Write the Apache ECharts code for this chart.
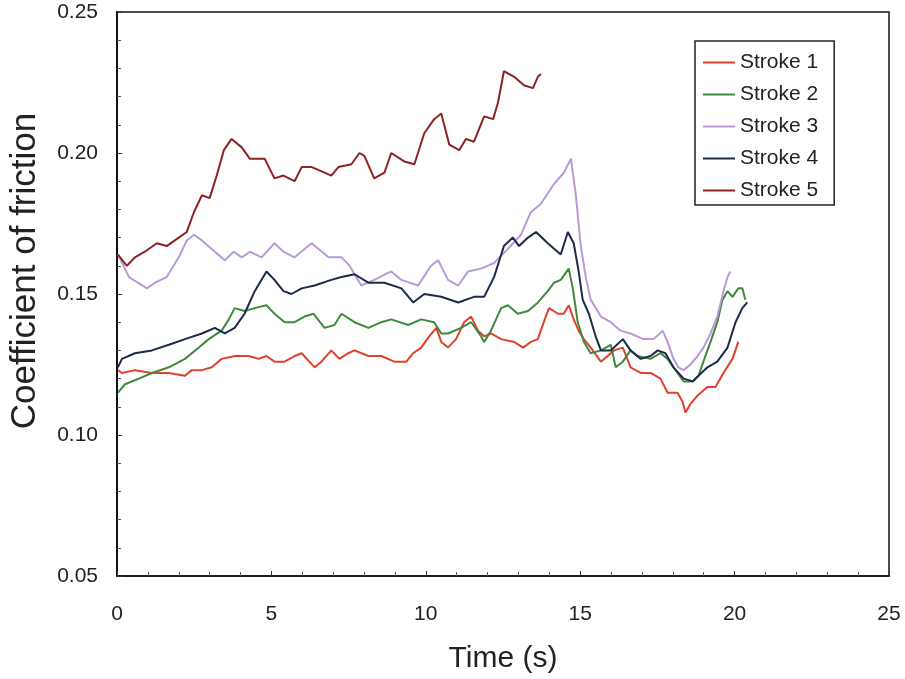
<!DOCTYPE html>
<html><head><meta charset="utf-8">
<script src="https://cdn.jsdelivr.net/npm/echarts@6/dist/echarts.min.js"></script>
<style>html,body{margin:0;padding:0;background:#fff}#c{width:905px;height:679px}</style>
</head><body><div id="c"></div>
<script>
const seriesNames = ['Stroke 1','Stroke 2','Stroke 3','Stroke 4','Stroke 5'];
const xTicks = [0,5,10,15,20,25];
const yTicks = [0.05,0.10,0.15,0.20,0.25];

const stroke1 = [[0.03,0.123],[0.16,0.122],[0.58,0.123],[1.13,0.122],[1.68,0.122],[2.20,0.121],[2.42,0.123],[2.75,0.123],[3.07,0.124],[3.39,0.127],[3.81,0.128],[4.26,0.128],[4.59,0.127],[4.84,0.128],[5.10,0.126],[5.43,0.126],[5.75,0.128],[5.98,0.129],[6.40,0.124],[6.62,0.126],[6.94,0.130],[7.20,0.127],[7.49,0.129],[7.69,0.130],[8.14,0.128],[8.56,0.128],[8.98,0.126],[9.37,0.126],[9.59,0.129],[9.85,0.131],[10.11,0.135],[10.34,0.138],[10.50,0.133],[10.72,0.131],[10.98,0.134],[11.24,0.140],[11.47,0.142],[11.69,0.137],[11.89,0.135],[12.11,0.136],[12.44,0.134],[12.86,0.133],[13.15,0.131],[13.40,0.133],[13.63,0.134],[13.82,0.140],[13.99,0.145],[14.28,0.143],[14.47,0.143],[14.63,0.146],[14.79,0.141],[14.95,0.137],[15.12,0.134],[15.34,0.131],[15.67,0.126],[15.89,0.128],[16.09,0.130],[16.38,0.131],[16.63,0.124],[16.96,0.122],[17.28,0.122],[17.60,0.120],[17.83,0.115],[18.15,0.115],[18.31,0.112],[18.41,0.108],[18.57,0.111],[18.80,0.114],[19.12,0.117],[19.38,0.117],[19.64,0.122],[19.93,0.127],[20.12,0.133]];

const stroke2 = [[0.03,0.115],[0.26,0.118],[0.71,0.120],[1.13,0.122],[1.68,0.124],[2.20,0.127],[2.65,0.131],[2.97,0.134],[3.39,0.137],[3.62,0.141],[3.81,0.145],[4.13,0.144],[4.46,0.145],[4.84,0.146],[5.10,0.143],[5.43,0.140],[5.75,0.140],[6.07,0.142],[6.36,0.143],[6.72,0.138],[7.04,0.139],[7.27,0.143],[7.69,0.140],[8.14,0.138],[8.56,0.140],[8.88,0.141],[9.43,0.139],[9.85,0.141],[10.27,0.140],[10.50,0.136],[10.72,0.136],[11.14,0.138],[11.47,0.140],[11.79,0.135],[11.89,0.133],[12.11,0.137],[12.44,0.145],[12.66,0.146],[12.98,0.143],[13.31,0.144],[13.63,0.147],[13.95,0.151],[14.15,0.154],[14.37,0.155],[14.63,0.159],[14.76,0.152],[14.92,0.140],[15.12,0.133],[15.34,0.129],[15.67,0.130],[15.99,0.132],[16.15,0.124],[16.38,0.126],[16.63,0.130],[16.86,0.128],[17.28,0.127],[17.60,0.129],[17.83,0.127],[18.15,0.122],[18.35,0.119],[18.64,0.119],[18.83,0.121],[18.99,0.126],[19.22,0.133],[19.44,0.140],[19.61,0.148],[19.77,0.151],[19.93,0.149],[20.12,0.152],[20.25,0.152],[20.35,0.148]];

const stroke3 = [[0.03,0.164],[0.39,0.156],[0.97,0.152],[1.23,0.154],[1.61,0.156],[2.00,0.163],[2.26,0.169],[2.49,0.171],[2.75,0.169],[3.17,0.165],[3.49,0.162],[3.78,0.165],[4.04,0.163],[4.30,0.165],[4.68,0.163],[5.10,0.168],[5.39,0.165],[5.75,0.163],[6.30,0.168],[6.85,0.163],[7.27,0.163],[7.53,0.160],[7.91,0.153],[8.33,0.155],[8.88,0.158],[9.21,0.155],[9.75,0.153],[10.17,0.160],[10.40,0.162],[10.72,0.155],[11.05,0.153],[11.37,0.158],[11.79,0.159],[12.21,0.161],[12.66,0.166],[13.08,0.171],[13.40,0.179],[13.73,0.182],[14.15,0.189],[14.47,0.193],[14.70,0.198],[14.86,0.185],[15.02,0.167],[15.18,0.156],[15.34,0.148],[15.67,0.142],[15.99,0.140],[16.31,0.137],[16.63,0.136],[17.05,0.134],[17.38,0.134],[17.67,0.137],[17.83,0.133],[18.02,0.127],[18.18,0.124],[18.35,0.123],[18.57,0.125],[18.80,0.128],[18.99,0.131],[19.22,0.136],[19.44,0.142],[19.64,0.151],[19.77,0.156],[19.86,0.158]];

const stroke4 = [[0.03,0.124],[0.16,0.127],[0.58,0.129],[1.13,0.130],[1.68,0.132],[2.20,0.134],[2.75,0.136],[3.17,0.138],[3.49,0.136],[3.81,0.138],[4.13,0.143],[4.46,0.151],[4.84,0.158],[5.10,0.155],[5.39,0.151],[5.65,0.150],[5.98,0.152],[6.40,0.153],[6.94,0.155],[7.27,0.156],[7.69,0.157],[8.14,0.154],[8.66,0.154],[9.21,0.152],[9.59,0.147],[9.95,0.150],[10.50,0.149],[11.05,0.147],[11.56,0.149],[11.89,0.149],[12.21,0.156],[12.53,0.167],[12.82,0.170],[13.02,0.167],[13.31,0.170],[13.57,0.172],[13.95,0.168],[14.37,0.164],[14.60,0.172],[14.79,0.168],[14.95,0.158],[15.08,0.148],[15.28,0.143],[15.50,0.135],[15.67,0.130],[15.99,0.130],[16.38,0.134],[16.63,0.130],[16.96,0.127],[17.28,0.128],[17.51,0.130],[17.76,0.129],[18.02,0.124],[18.35,0.120],[18.64,0.119],[18.83,0.121],[19.12,0.124],[19.44,0.126],[19.77,0.131],[20.03,0.140],[20.25,0.145],[20.41,0.147]];

const stroke5 = [[0.03,0.164],[0.32,0.160],[0.58,0.163],[0.90,0.165],[1.29,0.168],[1.61,0.167],[2.00,0.170],[2.26,0.172],[2.49,0.179],[2.75,0.185],[3.00,0.184],[3.23,0.192],[3.46,0.201],[3.71,0.205],[4.04,0.202],[4.30,0.198],[4.78,0.198],[5.10,0.191],[5.39,0.192],[5.75,0.190],[5.98,0.195],[6.30,0.195],[6.52,0.194],[6.94,0.192],[7.17,0.195],[7.59,0.196],[7.85,0.200],[8.01,0.199],[8.33,0.191],[8.66,0.193],[8.88,0.200],[9.30,0.197],[9.63,0.196],[9.95,0.207],[10.27,0.212],[10.50,0.214],[10.76,0.203],[11.08,0.201],[11.30,0.205],[11.56,0.204],[11.89,0.213],[12.18,0.212],[12.34,0.218],[12.53,0.229],[12.86,0.227],[13.18,0.224],[13.47,0.223],[13.63,0.227],[13.73,0.228]];

const allData = [stroke1, stroke2, stroke3, stroke4, stroke5];
const colors = ['#e0402c', '#3e8a3c', '#b99ad8', '#1e2a4c', '#8c2222'];

const chart = echarts.init(document.getElementById('c'), null, {renderer: 'canvas'});
const font = 'Liberation Sans, Arial, sans-serif';
chart.setOption({
  backgroundColor: '#ffffff',
  animation: false,
  color: colors,
  grid: {left: 115, right: 16, top: 12, bottom: 102, show: true, borderColor: '#111', borderWidth: 1.5, backgroundColor: 'transparent'},
  legend: {
    orient: 'vertical', left: 695, top: 41,
    data: seriesNames,
    itemWidth: 32, itemHeight: 10, itemGap: 11,
    padding: [11, 16, 4, 8],
    borderColor: '#1a2a1a', borderWidth: 1.5, backgroundColor: '#fff',
    textStyle: {fontFamily: font, fontSize: 21, lineHeight: 21, color: '#222'},
    icon: 'path://M0,4 L32,4 L32,6 L0,6 Z'
  },
  xAxis: {
    type: 'value', min: 0, max: 25, interval: 5,
    name: 'Time (s)', nameLocation: 'middle', nameGap: 68,
    nameTextStyle: {fontFamily: font, fontSize: 30, color: '#222'},
    axisLine: {show: true, lineStyle: {color: '#111', width: 1.5}},
    axisTick: {show: true, inside: true, length: 5, lineStyle: {color: '#333'}},
    minorTick: {show: true, splitNumber: 5, length: 4, lineStyle: {color: '#555'}},
    axisLabel: {fontFamily: font, fontSize: 21, color: '#222', margin: 28, formatter: v => xTicks.includes(v) ? String(v) : ''},
    splitLine: {show: false}
  },
  yAxis: {
    type: 'value', min: 0.05, max: 0.25, interval: 0.05,
    name: 'Coefficient of friction', nameLocation: 'middle', nameGap: 74,
    nameTextStyle: {fontFamily: font, fontSize: 35, color: '#222', padding: [0, 0, 0, 46]},
    axisLine: {show: true, lineStyle: {color: '#111', width: 2}},
    axisTick: {show: true, inside: true, length: 5, lineStyle: {color: '#333'}},
    minorTick: {show: true, splitNumber: 5, length: 4, lineStyle: {color: '#555'}},
    axisLabel: {fontFamily: font, fontSize: 21, color: '#222', margin: 19, padding: [5, 0, 0, 0], formatter: v => v.toFixed(2)},
    splitLine: {show: false}
  },
  series: allData.map((d, i) => ({
    name: seriesNames[i], type: 'line', data: d, showSymbol: false, symbol: 'none',
    lineStyle: {width: 2, color: colors[i]}, itemStyle: {color: colors[i]}, z: 2 + i
  }))
});
</script></body></html>
